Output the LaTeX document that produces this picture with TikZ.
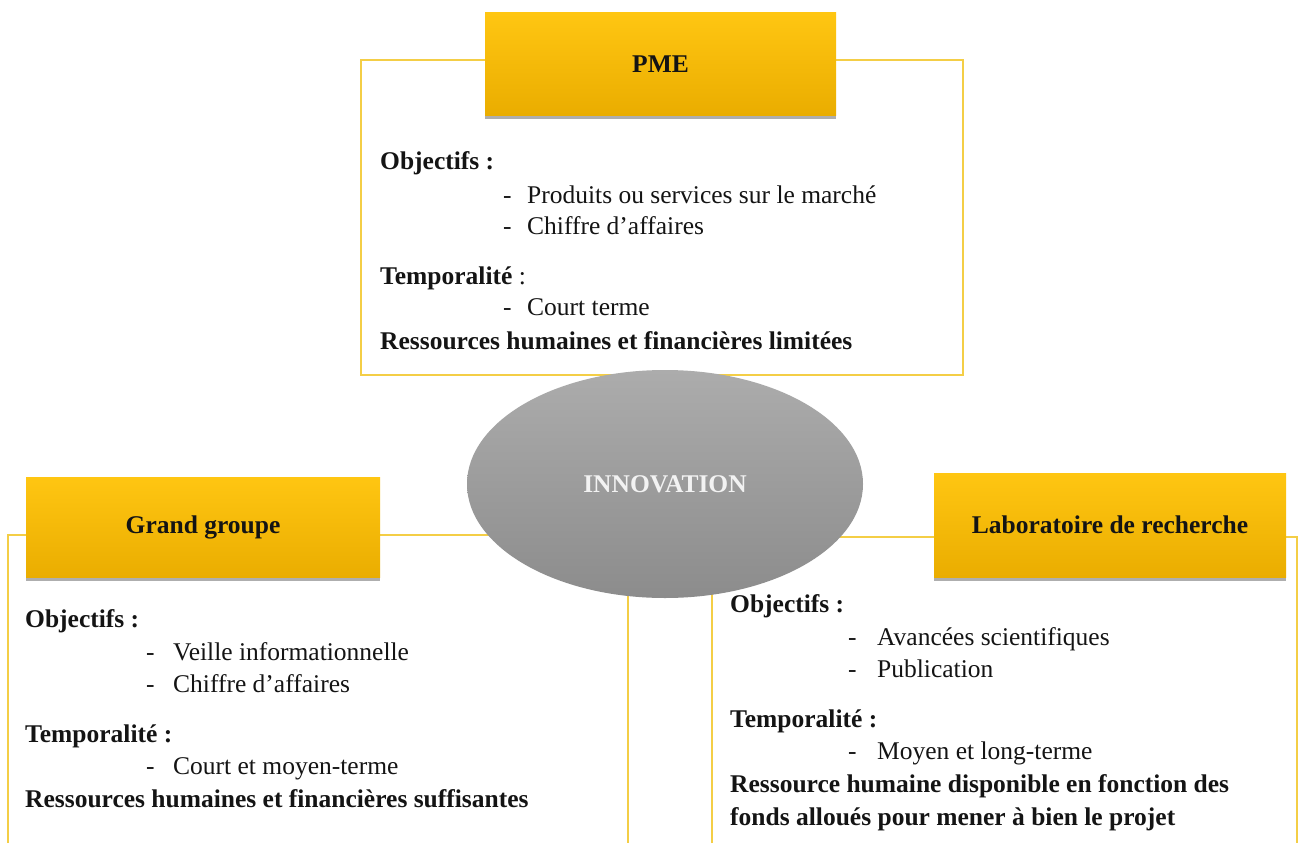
\documentclass[tikz,border=0pt]{standalone}
\usepackage{fontspec}
\setmainfont{Liberation Serif}
\usetikzlibrary{shapes.geometric,shadows}
\definecolor{framegold}{RGB}{244,206,70}
\definecolor{headtop}{RGB}{255,198,18}
\definecolor{headbot}{RGB}{234,173,0}
\definecolor{elltop}{RGB}{172,172,172}
\definecolor{ellbot}{RGB}{140,140,140}
\definecolor{txt}{RGB}{20,20,20}
\tikzset{
  frameline/.style={draw=framegold, line width=1.6pt},
  headbox/.style={rectangle, inner sep=0pt, top color=headtop, bottom color=headbot,
    draw=none, font=\bfseries, text=txt,
    drop shadow={shadow xshift=0pt, shadow yshift=-4pt, opacity=0.45, fill=black!70}},
  line/.style={anchor=base west, inner sep=0pt, text=txt},
  bline/.style={line, font=\bfseries},
  innov/.style={ellipse, inner sep=0pt, minimum width=396pt, minimum height=228pt,
    top color=elltop, bottom color=ellbot, draw=none, text=white!95!black, font=\bfseries}
}
\begin{document}
\begin{tikzpicture}[x=1pt,y=-1pt]
\fontsize{25.5}{30}\selectfont
\useasboundingbox[fill=white] (0,0) rectangle (1300,843);
% frames
\draw[frameline] (361,60) rectangle (963,375);
\draw[frameline] (8,843) -- (8,535) -- (628,535) -- (628,843);
\draw[frameline] (712,843) -- (712,537) -- (1297,537) -- (1297,843);
% headers
\node[headbox, minimum width=351pt, minimum height=102pt] (pme) at (660.5,64) {PME};
\node[headbox, minimum width=354pt, minimum height=100pt] (gg) at (203,527) {Grand groupe};
\node[headbox, minimum width=352pt, minimum height=104pt] (lab) at (1110,525) {Laboratoire de recherche};
% PME text
\node[bline] (p1) at (380,169) {Objectifs :};
\node[line] (p2d) at (503,203) {-};
\node[line] (p2) at (527,203) {Produits ou services sur le marché};
\node[line] (p3d) at (503,234) {-};
\node[line] (p3) at (527,234) {Chiffre d’affaires};
\node[line] (p4) at (380,284) {\textbf{Temporalité} :};
\node[line] (p5d) at (503,315) {-};
\node[line] (p5) at (527,315) {Court terme};
\node[bline] (p6) at (380,349) {Ressources humaines et financières limitées};
% Grand groupe text
\node[bline] (g1) at (25,627) {Objectifs :};
\node[line] (g2d) at (146,660) {-};
\node[line] (g2) at (173,660) {Veille informationnelle};
\node[line] (g3d) at (146,692) {-};
\node[line] (g3) at (173,692) {Chiffre d’affaires};
\node[bline] (g4) at (25,742) {Temporalité :};
\node[line] (g5d) at (146,774) {-};
\node[line] (g5) at (173,774) {Court et moyen-terme};
\node[bline] (g6) at (25,807) {Ressources humaines et financières suffisantes};
% Laboratoire text
\node[bline] (l1) at (730,612) {Objectifs :};
\node[line] (l2d) at (848,645) {-};
\node[line] (l2) at (877,645) {Avancées scientifiques};
\node[line] (l3d) at (848,677) {-};
\node[line] (l3) at (877,677) {Publication};
\node[bline] (l4) at (730,727) {Temporalité :};
\node[line] (l5d) at (848,759) {-};
\node[line] (l5) at (877,759) {Moyen et long-terme};
\node[bline] (l6) at (730,792) {Ressource humaine disponible en fonction des};
\node[bline] (l7) at (730,825) {fonds alloués pour mener à bien le projet};
% central ellipse
\node[innov] (inn) at (665,484) {INNOVATION};
\end{tikzpicture}
\end{document}
